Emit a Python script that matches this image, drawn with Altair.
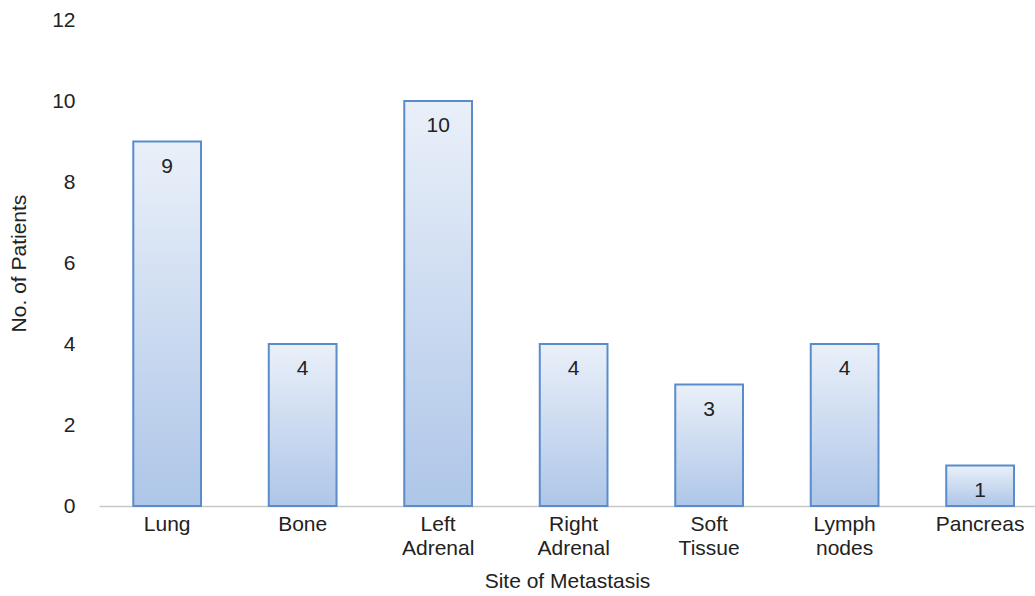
import altair as alt
import pandas as pd

sites = ["Lung", "Bone", "Left Adrenal", "Right Adrenal", "Soft Tissue", "Lymph nodes", "Pancreas"]
patients = [9, 4, 10, 4, 3, 4, 1]

df = pd.DataFrame({"site": sites, "n": patients})

FONT = "Liberation Sans"
FS = 21

x = alt.X(
    "site:N",
    sort=sites,
    title="Site of Metastasis",
    scale=alt.Scale(paddingInner=0.5, paddingOuter=0.204, align=0.62),
    axis=alt.Axis(
        labelAngle=0,
        labelExpr="split(datum.label, ' ')",
        labelLineHeight=24,
        labelPadding=7,
        ticks=False,
        domainColor="#c8c8c8",
        domainWidth=1.5,
        titlePadding=12,
    ),
)

y = alt.Y(
    "n:Q",
    title="No. of Patients",
    scale=alt.Scale(domain=[0, 12]),
    axis=alt.Axis(
        values=[0, 2, 4, 6, 8, 10, 12],
        grid=False,
        domain=False,
        ticks=False,
        labelPadding=24,
        titlePadding=22,
    ),
)

bars = alt.Chart(df).mark_bar(
    color=alt.Gradient(
        gradient="linear",
        stops=[
            alt.GradientStop(color="#eaf0f9", offset=0),
            alt.GradientStop(color="#aec6e8", offset=1),
        ],
        x1=0, x2=0, y1=0, y2=1,
    ),
    stroke="#5a8ccc",
    strokeWidth=2,
).encode(x=x, y=y)

labels = alt.Chart(df).mark_text(
    baseline="middle", dy=25, fontSize=FS, font=FONT, color="#222222"
).encode(x=alt.X("site:N", sort=sites), y="n:Q", text="n:Q")

chart = (
    alt.layer(bars, labels)
    .properties(
        width=936,
        height=486,
        autosize=alt.AutoSizeParams(type="none"),
        padding={"left": 99, "top": 20, "right": 0, "bottom": 90},
        background="white",
    )
    .configure_view(stroke=None)
    .configure_axis(
        labelFont=FONT,
        titleFont=FONT,
        labelFontSize=FS,
        titleFontSize=FS,
        labelColor="#222222",
        titleColor="#222222",
        titleFontWeight="normal",
    )
)

chart.save("out.html", embed_options={"renderer": "svg", "actions": False})
